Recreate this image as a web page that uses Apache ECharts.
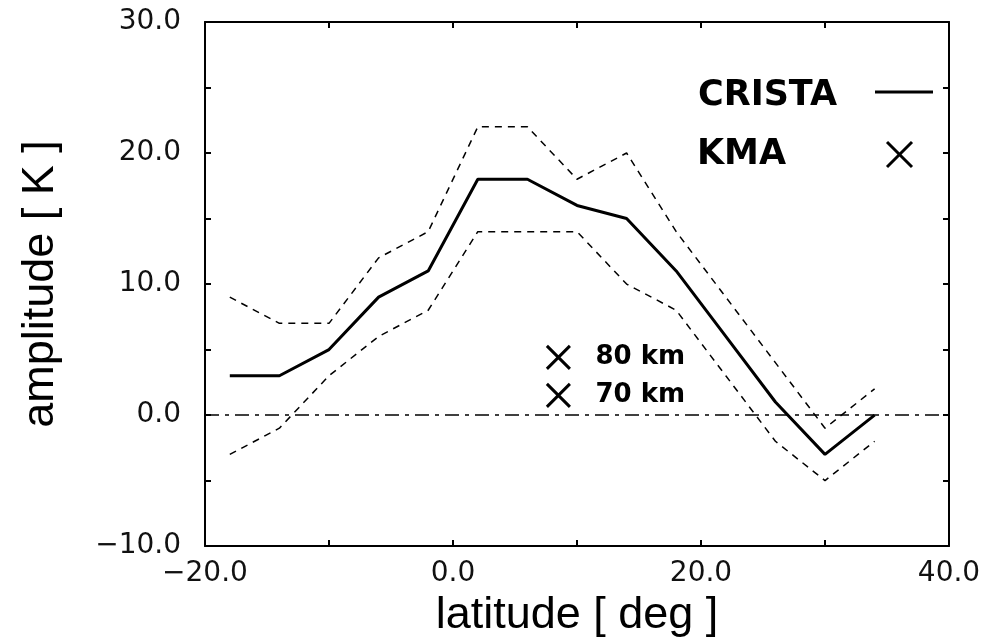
<!DOCTYPE html>
<html>
<head>
<meta charset="utf-8">
<script src="https://cdn.jsdelivr.net/npm/echarts@6/dist/echarts.min.js"></script>
<style>html,body{margin:0;padding:0;background:#fff;}#c{width:984px;height:643px;}</style>
</head>
<body>
<div id="c"></div>
<script>
// ---- data ----
var latitudes = [-18, -14, -10, -6, -2, 2, 6, 10, 14, 18, 22, 26, 30, 34];
var cristaAmp = [3, 3, 5, 9, 11, 18, 18, 16, 15, 11, 6, 1, -3, 0];
var cristaUpper = [9, 7, 7, 12, 14, 22, 22, 18, 20, 14, 9, 4, -1, 2];
var cristaLower = [-3, -1, 3, 6, 8, 14, 14, 14, 10, 8, 3, -2, -5, -2];
var kmaLat = [8.5, 8.5];
var kmaAmp = [4.4, 1.5];
var kmaLabels = ['80 km', '70 km'];
var xTicks = [-20, 0, 20, 40];
var yTicks = [-10, 0, 10, 20, 30];
var zeroLevel = 0;

function pairs(xs, ys) { return xs.map(function (x, i) { return [x, ys[i]]; }); }
function fmt(v) { return v.toFixed(1).replace('-', '\u2212'); }

var crossPath = 'path://M0,0L100,100M100,0L0,100';
var tickFont = 'DejaVu Sans';

var chart = echarts.init(document.getElementById('c'), null, { renderer: 'canvas' });

var axisCommon = {
  axisLine: { show: true, onZero: false, lineStyle: { color: '#000', width: 2 } },
  axisTick: { show: true, inside: true, length: 6, lineStyle: { color: '#000', width: 2 } },
  splitLine: { show: false }
};

chart.setOption({
  animation: false,
  backgroundColor: '#fff',
  grid: { left: 205, right: 35, top: 22, bottom: 96, containLabel: false },
  xAxis: [
    Object.assign({
      type: 'value', min: -20, max: 40, interval: 10, position: 'bottom',
      name: 'latitude [ deg ]', nameLocation: 'middle', nameGap: 46,
      nameTextStyle: { fontFamily: 'Liberation Sans', fontSize: 45, color: '#000' },
      axisLabel: {
        show: true, margin: 14, fontFamily: tickFont, fontSize: 28, color: '#111',
        formatter: function (v) { return xTicks.indexOf(v) >= 0 ? fmt(v) : ''; }
      }
    }, axisCommon),
    Object.assign({
      type: 'value', min: -20, max: 40, interval: 10, position: 'top',
      axisLabel: { show: false }
    }, axisCommon)
  ],
  yAxis: [
    Object.assign({
      type: 'value', min: -10, max: 30, interval: 5, position: 'left',
      name: 'amplitude [ K ]', nameLocation: 'middle', nameGap: 142, nameRotate: 90,
      nameTextStyle: { fontFamily: 'Liberation Sans', fontSize: 45, color: '#000' },
      axisLabel: {
        show: true, margin: 24, fontFamily: tickFont, fontSize: 28, color: '#111',
        formatter: function (v) { return yTicks.indexOf(v) >= 0 ? fmt(v) : ''; }
      }
    }, axisCommon),
    Object.assign({
      type: 'value', min: -10, max: 30, interval: 5, position: 'right',
      axisLabel: { show: false }
    }, axisCommon)
  ],
  series: [
    {
      name: 'upper', type: 'line', data: pairs(latitudes, cristaUpper),
      symbol: 'none', lineStyle: { color: '#000', width: 1.5, type: [7, 6] }, silent: true,
      markLine: {
        silent: true, symbol: ['none', 'none'], label: { show: false },
        lineStyle: { color: '#000', width: 1.5, type: [14, 6, 4, 6] },
        data: [{ yAxis: zeroLevel }]
      }
    },
    {
      name: 'lower', type: 'line', data: pairs(latitudes, cristaLower),
      symbol: 'none', lineStyle: { color: '#000', width: 1.5, type: [7, 6] }, silent: true
    },
    {
      name: 'CRISTA', type: 'line', data: pairs(latitudes, cristaAmp),
      symbol: 'none', lineStyle: { color: '#000', width: 3 }, silent: true
    },
    {
      name: 'KMA', type: 'scatter', data: pairs(kmaLat, kmaAmp),
      symbol: crossPath, symbolSize: 23,
      itemStyle: { color: 'rgba(0,0,0,0)', borderColor: '#000', borderWidth: 3, opacity: 1 },
      label: {
        show: true, position: 'right', distance: 24,
        fontFamily: 'DejaVu Sans', fontWeight: 'bold', fontSize: 26, color: '#000',
        formatter: function (p) { return kmaLabels[p.dataIndex]; }
      },
      silent: true
    }
  ],
  graphic: [
    { type: 'text', left: 698, top: 78, style: { text: 'CRISTA', font: 'bold 35px "DejaVu Sans"', fill: '#000' } },
    { type: 'line', shape: { x1: 875, y1: 92, x2: 933, y2: 92 }, style: { stroke: '#000', lineWidth: 3 } },
    { type: 'text', left: 697, top: 137, style: { text: 'KMA', font: 'bold 35px "DejaVu Sans"', fill: '#000' } },
    { type: 'line', shape: { x1: 887, y1: 142, x2: 912, y2: 167 }, style: { stroke: '#000', lineWidth: 3 } },
    { type: 'line', shape: { x1: 912, y1: 142, x2: 887, y2: 167 }, style: { stroke: '#000', lineWidth: 3 } }
  ]
});
</script>
</body>
</html>
